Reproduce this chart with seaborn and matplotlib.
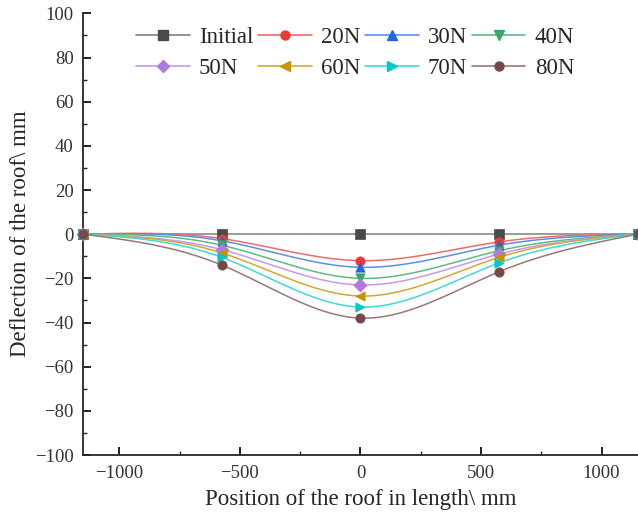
import numpy as np
import pandas as pd
import matplotlib
matplotlib.use("Agg")
import matplotlib.pyplot as plt
from matplotlib.lines import Line2D
from matplotlib.ticker import MultipleLocator
import seaborn as sns

# ── Data ──────────────────────────────────────────────────────────────────────
POSITION = [-1150, -575, 0, 575, 1150]
LOADS = ["Initial", "20N", "30N", "40N", "50N", "60N", "70N", "80N"]
DEFL_INITIAL = [0, 0, 0, 0, 0]
DEFL_20N = [0, -2, -12, -3.5, 0]
DEFL_30N = [0, -3, -15, -5, 0]
DEFL_40N = [0, -5, -20, -7.5, 0]
DEFL_50N = [0, -7, -23, -9, 0]
DEFL_60N = [0, -8.5, -28, -10.5, 0]
DEFL_70N = [0, -10.5, -33, -13, 0]
DEFL_80N = [0, -14, -38, -17, 0]
SERIES = [DEFL_INITIAL, DEFL_20N, DEFL_30N, DEFL_40N,
          DEFL_50N, DEFL_60N, DEFL_70N, DEFL_80N]

MARKERS = ["s", "o", "^", "v", "D", "<", ">", "o"]
MARKER_COLORS = ["#4a4a4a", "#f03a3a", "#1f66e0", "#38a868",
                 "#b07ae0", "#c89400", "#00c8c8", "#744848"]
LINE_COLORS = ["#808080", "#f06a6a", "#5a90e8", "#5cbc84",
               "#c898ee", "#d4a830", "#40d8d8", "#9a7878"]


def natural_spline(x, y, n=300):
    """Natural cubic spline through the points (Origin-style 'Spline' line)."""
    x = np.asarray(x, float)
    y = np.asarray(y, float)
    k = len(x)
    h = np.diff(x)
    A = np.zeros((k, k))
    b = np.zeros(k)
    A[0, 0] = A[-1, -1] = 1
    for i in range(1, k - 1):
        A[i, i - 1] = h[i - 1]
        A[i, i] = 2 * (h[i - 1] + h[i])
        A[i, i + 1] = h[i]
        b[i] = 6 * ((y[i + 1] - y[i]) / h[i] - (y[i] - y[i - 1]) / h[i - 1])
    M = np.linalg.solve(A, b)
    xs = np.linspace(x[0], x[-1], n)
    idx = np.clip(np.searchsorted(x, xs) - 1, 0, k - 2)
    x0, x1 = x[idx], x[idx + 1]
    hh = x1 - x0
    t0, t1 = x1 - xs, xs - x0
    ys = (M[idx] * t0**3 + M[idx + 1] * t1**3) / (6 * hh) \
        + (y[idx] / hh - M[idx] * hh / 6) * t0 \
        + (y[idx + 1] / hh - M[idx + 1] * hh / 6) * t1
    return xs, ys


sns.set_style("ticks")
plt.rcParams["font.family"] = ["Liberation Serif", "DejaVu Serif"]
plt.rcParams["axes.unicode_minus"] = True

fig = plt.figure(figsize=(6.38, 5.19), dpi=100)
ax = fig.add_axes([0.1305, 0.1233, 0.869, 0.851])

# smooth lines
for name, vals, lc in zip(LOADS, SERIES, LINE_COLORS):
    xs, ys = natural_spline(POSITION, vals)
    sns.lineplot(x=xs, y=ys, ax=ax, color=lc, linewidth=1.1,
                 estimator=None, sort=False, zorder=2)

# data points
for name, vals, mk, mc in zip(LOADS, SERIES, MARKERS, MARKER_COLORS):
    sns.scatterplot(x=POSITION, y=vals, ax=ax, marker=mk, color=mc,
                    s=45, edgecolor=mc, linewidth=0.5, zorder=3,
                    clip_on=False)

ax.set_xlim(-1150, 1150)
ax.set_ylim(-100, 100)
ax.xaxis.set_major_locator(MultipleLocator(500))
ax.xaxis.set_minor_locator(MultipleLocator(250))
ax.yaxis.set_major_locator(MultipleLocator(20))
ax.yaxis.set_minor_locator(MultipleLocator(10))
ax.tick_params(which="major", direction="in", length=6, width=1.2,
               labelsize=13.5, colors="black", pad=7)
ax.tick_params(which="minor", direction="in", length=3, width=1.0)
ax.tick_params(axis="both", labelcolor="#333333")
for side in ["top", "right"]:
    ax.spines[side].set_visible(False)
for side in ["left", "bottom"]:
    ax.spines[side].set_linewidth(1.3)

ax.set_xlabel("Position of the roof in length\\ mm", fontsize=16.5, labelpad=5)
ax.set_ylabel("Deflection of the roof\\ mm", fontsize=16.5, labelpad=3)

handles = [Line2D([], [], color=lc, marker=mk, markerfacecolor=mc,
                  markeredgecolor=mc, markersize=6.5, linewidth=1.2)
           for mk, mc, lc in zip(MARKERS, MARKER_COLORS, LINE_COLORS)]
# legend is filled row-wise in the reference: reorder for column-major fill
order = [0, 4, 1, 5, 2, 6, 3, 7]
ax.legend([handles[i] for i in order], [LOADS[i] for i in order],
          ncol=4, frameon=False, fontsize=16.5,
          loc="upper center", bbox_to_anchor=(0.49, 1.0),
          handlelength=2.35, handletextpad=0.4, columnspacing=0.2,
          labelspacing=0.42, borderaxespad=0.2)

fig.savefig("out.png", dpi=100)
